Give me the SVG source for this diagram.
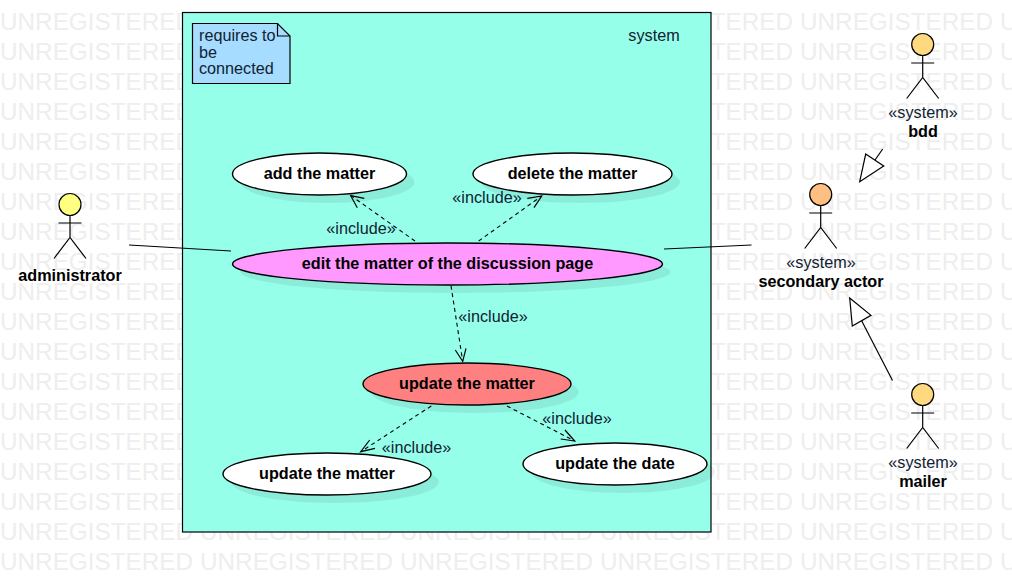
<svg xmlns="http://www.w3.org/2000/svg" width="1012" height="582" viewBox="0 0 1012 582">
<style>
text{font-family:"Liberation Sans",Arial,sans-serif;font-size:16.2px;fill:#123}
.wm{font-size:24.3px;fill:#eeeeee}
.b{font-weight:bold;text-anchor:middle;fill:#000}
.c{text-anchor:middle}
.ln{fill:none;stroke:#000;stroke-width:1.2}
.dash{fill:none;stroke:#000;stroke-width:1.1;stroke-dasharray:4 3.5}
.uc{stroke:#000;stroke-width:1.4}
.sh{fill:#000;fill-opacity:.07}
.tri{fill:#fff;stroke:#000;stroke-width:1.2}
.act{fill:none;stroke:#000;stroke-width:1.2}
</style>
<defs>
<g id="wr"><text class="wm" x="0">UNREGISTERED</text><text class="wm" x="200">UNREGISTERED</text><text class="wm" x="400">UNREGISTERED</text><text class="wm" x="600">UNREGISTERED</text><text class="wm" x="800">UNREGISTERED</text><text class="wm" x="1000">UNREGISTERED</text></g>
<g id="man"><path class="act" d="M0 11V33M-11.500 18.500H11.500M-16 54L0 33L16 54"/></g>
</defs>
<rect width="1012" height="582" fill="#fff"/>
<g id="watermark">
<use href="#wr" y="30"/><use href="#wr" y="60"/><use href="#wr" y="90"/><use href="#wr" y="120"/><use href="#wr" y="150"/><use href="#wr" y="180"/><use href="#wr" y="210"/><use href="#wr" y="240"/><use href="#wr" y="270"/><use href="#wr" y="300"/><use href="#wr" y="330"/><use href="#wr" y="360"/><use href="#wr" y="390"/><use href="#wr" y="420"/><use href="#wr" y="450"/><use href="#wr" y="480"/><use href="#wr" y="510"/><use href="#wr" y="540"/><use href="#wr" y="570"/>
</g>
<g id="system">
<rect x="182.500" y="12.500" width="528.500" height="519.500" fill="#96ffea" stroke="#000" stroke-width="1.200"/>
<text class="c" x="654" y="41">system</text>
</g>
<g id="note">
<path d="M192.500 23.500H277.500L290 36V83.500H192.500Z" fill="#a5dcff" stroke="#000" stroke-width="1.200"/>
<path d="M277.500 23.500V36H290" fill="none" stroke="#000" stroke-width="1.200"/>
<text x="199" y="41">requires to</text><text x="199" y="58">be</text><text x="199" y="74">connected</text>
</g>
<g id="uc-add"><ellipse class="sh" cx="327.500" cy="182" rx="87" ry="21"/><ellipse class="uc" cx="319.500" cy="174" rx="87" ry="21" fill="#fff"/><text class="b" x="319.500" y="179">add the matter</text></g>
<g id="uc-delete"><ellipse class="sh" cx="580.500" cy="182" rx="99.500" ry="21"/><ellipse class="uc" cx="572.500" cy="174" rx="99.500" ry="21" fill="#fff"/><text class="b" x="572.500" y="179">delete the matter</text></g>
<g id="uc-edit"><ellipse class="sh" cx="455.500" cy="272" rx="215" ry="21"/><ellipse class="uc" cx="447.500" cy="264" rx="215" ry="21" fill="#ff99ff"/><text class="b" x="447.500" y="269">edit the matter of the discussion page</text></g>
<g id="uc-update"><ellipse class="sh" cx="475" cy="392" rx="104" ry="21"/><ellipse class="uc" cx="467" cy="384" rx="104" ry="21" fill="#ff8080"/><text class="b" x="467" y="389">update the matter</text></g>
<g id="uc-update-matter"><ellipse class="sh" cx="335" cy="482" rx="104" ry="21"/><ellipse class="uc" cx="327" cy="474" rx="104" ry="21" fill="#fff"/><text class="b" x="327" y="479">update the matter</text></g>
<g id="uc-update-date"><ellipse class="sh" cx="623" cy="472" rx="92" ry="21"/><ellipse class="uc" cx="615" cy="464" rx="92" ry="21" fill="#fff"/><text class="b" x="615" y="469">update the date</text></g>
<g id="connectors">
<path class="ln" d="M129 245L231 251"/>
<path class="ln" d="M664 249L751.500 245"/>
<path class="ln" d="M882.700 149L875 160"/>
<path class="tri" d="M859.700 181.700L865.700 154L883.700 166Z"/>
<path class="ln" d="M892.500 380.500L861.500 320.500"/>
<path class="tri" d="M849.700 298L871 315.300L852.300 326Z"/>
<path class="dash" d="M415 241L351 195.700"/><path class="ln" d="M364.300 198.300L350.700 195.700L357.300 207.700"/>
<path class="dash" d="M478.700 241L541.700 196"/><path class="ln" d="M527.300 198.300L541.700 196L534 207.700"/>
<path class="dash" d="M451 285.700L462.700 361.300"/><path class="ln" d="M455.300 350L462.700 361.300L466 348.300"/>
<path class="dash" d="M431.300 406L360.700 451.700"/><path class="ln" d="M369.700 440L360.700 451.700L375 448.300"/>
<path class="dash" d="M507 406L574.700 441"/><path class="ln" d="M560.700 439L574.700 441L565 430"/>
<text class="c" x="361" y="234">«include»</text>
<text class="c" x="487" y="203">«include»</text>
<text class="c" x="493" y="322">«include»</text>
<text class="c" x="416.500" y="453">«include»</text>
<text class="c" x="577" y="424">«include»</text>
</g>
<g id="actor-administrator"><circle class="act" cx="70" cy="204.500" r="11" style="fill:#ffff80"/><use href="#man" x="70" y="204.500"/><text class="b" x="70" y="281">administrator</text></g>
<g id="actor-bdd"><circle class="act" cx="922.700" cy="44.500" r="11" style="fill:#ffd980"/><use href="#man" x="922.700" y="44.500"/><text class="c" x="923" y="118">«system»</text><text class="b" x="923" y="137">bdd</text></g>
<g id="actor-secondary"><circle class="act" cx="820.700" cy="194.500" r="11" style="fill:#ffbf80"/><use href="#man" x="820.700" y="194.500"/><text class="c" x="821" y="268">«system»</text><text class="b" x="821" y="287">secondary actor</text></g>
<g id="actor-mailer"><circle class="act" cx="922.700" cy="394.500" r="11" style="fill:#ffd980"/><use href="#man" x="922.700" y="394.500"/><text class="c" x="923" y="468">«system»</text><text class="b" x="923" y="487">mailer</text></g>
</svg>
